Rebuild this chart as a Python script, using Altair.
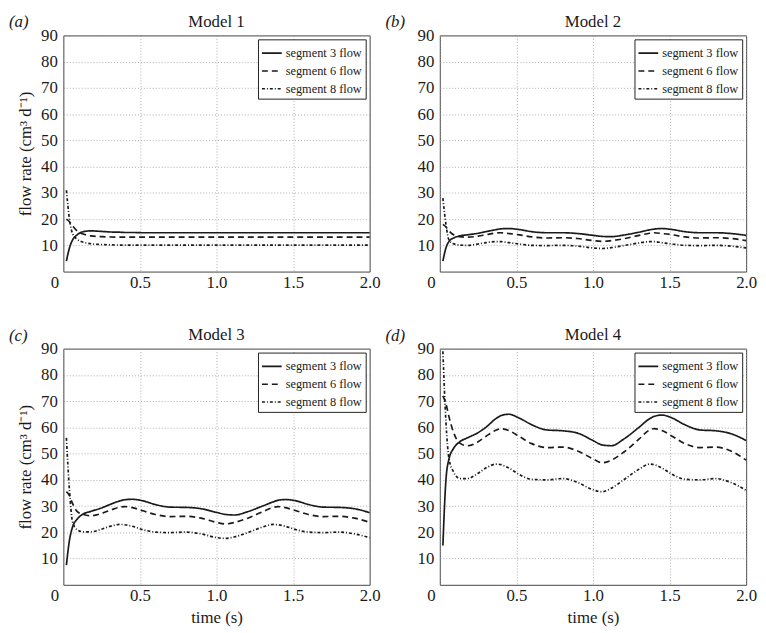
import altair as alt
import pandas as pd

T = [0.02, 0.04, 0.06, 0.09, 0.13, 0.18, 0.25, 0.3, 0.37, 0.4, 0.45, 0.52, 0.6, 0.7, 0.8,
     0.9, 1.0, 1.06, 1.12, 1.2, 1.3, 1.37, 1.4, 1.45, 1.52, 1.6, 1.7, 1.8, 1.9, 2.0]

SERIES = ["segment 3 flow", "segment 6 flow", "segment 8 flow"]

m1_s3 = [4, 9, 12, 14, 15.2, 15.5, 15.3, 15.1, 15.0, 14.9, 14.9, 14.8, 14.8, 14.8, 14.8,
         14.8, 14.8, 14.8, 14.8, 14.8, 14.8, 14.8, 14.8, 14.8, 14.8, 14.8, 14.8, 14.8, 14.8, 14.8]
m1_s6 = [20, 19, 17.5, 15.5, 14.3, 13.6, 13.3, 13.2, 13.1, 13.1, 13.1, 13.1, 13.1, 13.1, 13.1,
         13.1, 13.1, 13.1, 13.1, 13.1, 13.1, 13.1, 13.1, 13.1, 13.1, 13.1, 13.1, 13.1, 13.1, 13.1]
m1_s8 = [31, 20, 14.5, 12.3, 11.2, 10.6, 10.3, 10.2, 10.1, 10.1, 10.1, 10.1, 10.1, 10.1, 10.1,
         10.1, 10.1, 10.1, 10.1, 10.1, 10.1, 10.1, 10.1, 10.1, 10.1, 10.1, 10.1, 10.1, 10.1, 10.1]

m2_s3 = [4, 9, 11.5, 12.8, 13.6, 14, 14.6, 15.2, 16, 16.3, 16.4, 16, 15.2, 14.8, 14.8,
         14.5, 13.8, 13.4, 13.3, 13.9, 15, 15.9, 16.2, 16.4, 16, 15.2, 14.8, 14.8, 14.5, 13.8]
m2_s6 = [18, 17, 15.5, 14, 13.3, 13.1, 13.5, 14, 14.7, 14.8, 14.5, 14, 13.2, 12.8, 12.9,
         12.6, 11.8, 11.5, 11.8, 12.5, 13.8, 14.6, 14.8, 14.5, 14, 13.2, 12.8, 12.9, 12.6, 11.8]
m2_s8 = [28, 18, 12, 10.6, 10.1, 10, 10.5, 11, 11.4, 11.4, 11, 10.5, 10, 9.9, 10,
         9.7, 9, 8.8, 9.1, 9.9, 10.9, 11.4, 11.4, 11, 10.5, 10, 9.9, 10, 9.7, 9]

m3_s3 = [7.5, 17, 22, 25, 27, 28, 29.3, 30.5, 32, 32.4, 32.6, 32, 30.6, 29.6, 29.5,
         29, 27.6, 26.8, 26.6, 27.8, 30, 31.6, 32.2, 32.5, 32, 30.6, 29.6, 29.5, 29, 27.5]
m3_s6 = [35.5, 34, 31, 28, 26.8, 26.3, 27.2, 28.3, 29.6, 29.8, 29.4, 28.2, 26.8, 26, 26.1,
         25.4, 23.8, 23.2, 23.8, 25.3, 27.8, 29.5, 29.8, 29.4, 28.2, 26.8, 26, 26.1, 25.4, 23.8]
m3_s8 = [56, 36, 24, 21, 20.2, 20.2, 21.2, 22.2, 23, 22.9, 22.3, 21, 20.1, 19.9, 20.1,
         19.4, 18, 17.7, 18.3, 19.8, 22, 23, 22.9, 22.3, 21, 20.1, 19.9, 20.1, 19.4, 18]

m4_s3 = [15, 40, 48, 52, 54.5, 56, 58, 60, 63.5, 64.5, 65, 63.5, 61, 59, 58.7,
         57.8, 55, 53.3, 53, 55.5, 60, 63.3, 64.2, 64.7, 63.5, 61, 59, 58.7, 57.6, 55]
m4_s6 = [72, 69, 64, 58, 54, 53, 54.5, 56.5, 59, 59.5, 58.8, 56.5, 53.8, 52.3, 52.5,
         51, 48, 46.5, 47.5, 50.5, 55.5, 59, 59.5, 58.8, 56.5, 53.8, 52.3, 52.5, 51, 47.5]
m4_s8 = [89, 62, 48, 43, 40.5, 40.5, 42.5, 44.5, 46, 45.8, 44.5, 42, 40.2, 40, 40.5,
         39, 36.2, 35.5, 36.8, 40, 44, 46, 45.8, 44.5, 42, 40.2, 40, 40.5, 39, 36]

MODELS = [
    ("Model 1", "(a)", [m1_s3, m1_s6, m1_s8]),
    ("Model 2", "(b)", [m2_s3, m2_s6, m2_s8]),
    ("Model 3", "(c)", [m3_s3, m3_s6, m3_s8]),
    ("Model 4", "(d)", [m4_s3, m4_s6, m4_s8]),
]

FONT = "Liberation Serif"
INK = "#1a1a1a"
W, H = 310, 239


def panel(title, label, vals, show_ytitle, show_xtitle):
    rows = []
    for name, v in zip(SERIES, vals):
        for t, y in zip(T, v):
            rows.append({"t": t, "flow": y, "series": name})
    df = pd.DataFrame(rows)
    lines = alt.Chart(df).mark_line(
        interpolate="monotone", strokeWidth=1.7, color=INK
    ).encode(
        x=alt.X("t:Q", scale=alt.Scale(domain=[0, 2], nice=False),
                axis=alt.Axis(values=[0, 0.5, 1, 1.5, 2],
                              labelExpr="datum.value == 0 ? '0' : format(datum.value, '.1f')",
                              labelOffset={"condition": {"test": "datum.value === 0", "value": -9},
                                           "value": 0},
                              title="time (s)" if show_xtitle else None)),
        y=alt.Y("flow:Q", scale=alt.Scale(domain=[0, 90], nice=False),
                axis=alt.Axis(values=[10, 20, 30, 40, 50, 60, 70, 80, 90],
                              title="flow rate (cm³ d⁻¹)" if show_ytitle else None)),
        strokeDash=alt.StrokeDash(
            "series:N",
            scale=alt.Scale(domain=SERIES, range=[[1, 0], [6, 4], [3, 2, 1, 2]]),
            legend=alt.Legend(title=None, orient="top-right", offset=4),
        ),
    )
    txt = pd.DataFrame({"s": [label, title], "kind": ["label", "title"]})
    lab = alt.Chart(txt).transform_filter("datum.kind == 'label'").mark_text(
        font=FONT, fontSize=17, fontStyle="italic", align="left", baseline="middle",
        color=INK
    ).encode(text="s:N", x=alt.value(-55), y=alt.value(-13))
    ttl = alt.Chart(txt).transform_filter("datum.kind == 'title'").mark_text(
        font=FONT, fontSize=17, align="center", baseline="middle", color=INK
    ).encode(text="s:N", x=alt.value(W / 2), y=alt.value(-14))
    return alt.layer(lines, lab, ttl).properties(width=W, height=H)


pa = panel(*MODELS[0][:2], MODELS[0][2], True, False)
pb = panel(*MODELS[1][:2], MODELS[1][2], False, False)
pc = panel(*MODELS[2][:2], MODELS[2][2], True, True)
pd_ = panel(*MODELS[3][:2], MODELS[3][2], False, True)

chart = alt.vconcat(
    alt.hconcat(pa, pb, spacing=3).resolve_legend(strokeDash="independent"),
    alt.hconcat(pc, pd_, spacing=3).resolve_legend(strokeDash="independent"),
    spacing=34, padding=0,
).resolve_legend(strokeDash="independent").configure_view(
    stroke="#444", strokeWidth=1
).configure_axis(
    labelFont=FONT, labelFontSize=17, labelColor=INK, labelFlush=False,
    titleFont=FONT, titleFontSize=17, titleFontWeight="normal", titleColor=INK,
    domain=False, ticks=False,
    grid=True, gridColor="#999", gridDash=[1, 2], gridWidth=0.8,
).configure_axisY(titlePadding=6, labelPadding=6).configure_axisX(
    titlePadding=6, labelPadding=3
).configure_legend(
    labelFont=FONT, labelFontSize=12.5, labelColor=INK, labelOffset=3,
    fillColor="white", strokeColor="#222", padding=3, rowPadding=-6,
    symbolType="stroke", symbolSize=400, symbolStrokeWidth=1.7,
    symbolStrokeColor=INK,
)

chart.save("out.html", embed_options={"renderer": "svg", "actions": False})
